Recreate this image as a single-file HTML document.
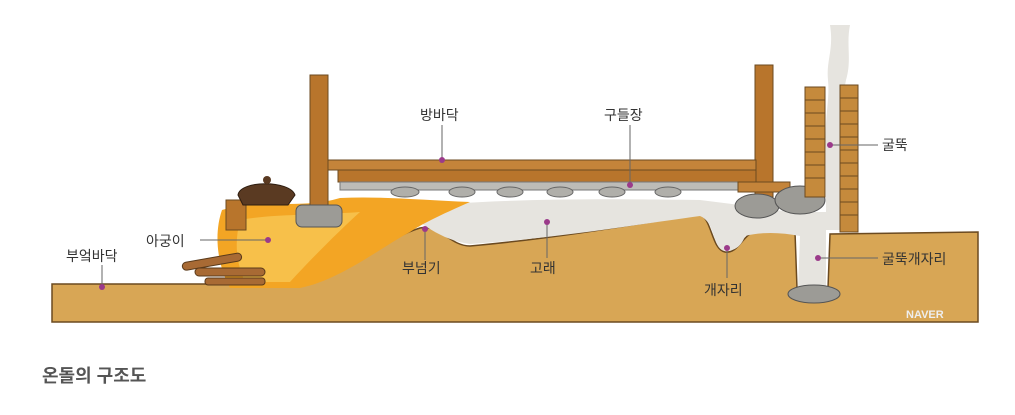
<!DOCTYPE html>
<html><head><meta charset="utf-8"><style>
html,body{margin:0;padding:0;background:#fff;width:1015px;height:415px;overflow:hidden}
svg{display:block}
text{font-family:"Liberation Sans","Noto Sans CJK KR",sans-serif;fill:#333;font-size:14px}
</style></head><body>
<svg width="1015" height="415" viewBox="0 0 1015 415">
<!-- ground -->
<path d="M52 284 L290 284 C340 282 380 240 420 228 C440 224 450 246 470 246 C560 238 650 222 700 214 C712 220 712 250 725 252 C740 254 742 232 760 230 L795 232 L797 288 L828 288 L830 234 L978 232 L978 322 L52 322 Z" fill="#d8a655" stroke="#6b4a20" stroke-width="1.5"/>
<!-- smoke under floor -->
<path d="M400 208 C480 200 560 198 700 200 L740 205 L790 212 L826 212 L826 288 L798 288 L800 236 C780 232 760 232 745 236 C740 250 730 252 722 250 C712 244 715 222 700 216 C640 224 560 238 470 244 C440 240 420 222 400 208Z" fill="#e6e4df"/>
<!-- smoke column in chimney -->
<path d="M826 230 L826 150 C824 120 830 100 828 80 C826 60 834 50 830 25 L850 25 C846 45 852 60 846 80 C842 100 840 130 840 230 Z" fill="#e6e4df"/>
<!-- fire -->
<path d="M222 210 C260 198 300 210 340 198 C380 196 420 200 470 202 C440 215 420 225 410 232 C380 248 340 280 300 288 L230 288 C215 260 215 230 222 210Z" fill="#f3a524"/>
<path d="M240 220 C270 214 320 215 360 212 C340 230 310 260 290 282 L245 282 C235 260 235 240 240 220Z" fill="#f7c04a"/>
<!-- posts and floor -->
<rect x="310" y="75" width="18" height="130" fill="#b8752c" stroke="#6b4a20"/>
<rect x="755" y="65" width="18" height="132" fill="#b8752c" stroke="#6b4a20"/>
<rect x="328" y="160" width="428" height="10" fill="#c4843a" stroke="#6b4a20"/>
<rect x="338" y="170" width="418" height="12" fill="#b8752c" stroke="#6b4a20"/>
<rect x="340" y="182" width="415" height="8" fill="#bdbcb8" stroke="#777"/>
<g fill="#b0afaa" stroke="#666"><ellipse cx="405" cy="192" rx="14" ry="5"/><ellipse cx="462" cy="192" rx="13" ry="5"/><ellipse cx="510" cy="192" rx="13" ry="5"/><ellipse cx="560" cy="192" rx="13" ry="5"/><ellipse cx="612" cy="192" rx="13" ry="5"/><ellipse cx="668" cy="192" rx="13" ry="5"/></g>
<rect x="738" y="182" width="52" height="10" fill="#c4843a" stroke="#6b4a20"/>
<!-- stones -->
<g fill="#9c9b96" stroke="#555"><rect x="296" y="205" width="46" height="22" rx="6"/><ellipse cx="757" cy="206" rx="22" ry="12"/><ellipse cx="800" cy="200" rx="25" ry="14"/><ellipse cx="814" cy="294" rx="26" ry="9"/></g>
<!-- pot -->
<rect x="226" y="200" width="20" height="30" fill="#b8752c" stroke="#6b4a20"/>
<path d="M238 195 C240 180 290 180 295 195 L288 205 L243 205 Z" fill="#5a3a22" stroke="#2e1d10"/>
<circle cx="267" cy="180" r="4" fill="#5a3a22"/>
<!-- wood -->
<g fill="#a86a34" stroke="#5a3a1a"><rect x="182" y="258" width="60" height="8" rx="4" transform="rotate(-10 210 262)"/><rect x="195" y="268" width="70" height="8" rx="4"/><rect x="205" y="278" width="60" height="7" rx="3"/></g>
<!-- chimney -->
<g fill="#c58a3c" stroke="#6b4a20"><rect x="805" y="87" width="20" height="110"/><rect x="840" y="85" width="18" height="147"/></g>
<g stroke="#6b4a20" stroke-width="1"><path d="M805 100h20M805 113h20M805 126h20M805 139h20M805 152h20M805 165h20M805 178h20M840 98h18M840 111h18M840 124h18M840 137h18M840 150h18M840 163h18M840 176h18M840 189h18M840 202h18M840 215h18"/></g>
<!-- leaders -->
<g stroke="#666" stroke-width="1"><path d="M442 125V160M630 125V185M200 240H268M102 265V287M425 229V260M547 222V258M727 248V278M830 145H878M818 258H878"/></g>
<g fill="#9b3a8a"><circle cx="442" cy="160" r="3"/><circle cx="630" cy="185" r="3"/><circle cx="268" cy="240" r="3"/><circle cx="102" cy="287" r="3"/><circle cx="425" cy="229" r="3"/><circle cx="547" cy="222" r="3"/><circle cx="727" cy="248" r="3"/><circle cx="830" cy="145" r="3"/><circle cx="818" cy="258" r="3"/></g>
<text x="420" y="120">방바닥</text>
<text x="604" y="120">구들장</text>
<text x="146" y="246">아궁이</text>
<text x="66" y="261">부엌바닥</text>
<text x="402" y="273">부넘기</text>
<text x="530" y="273">고래</text>
<text x="704" y="295">개자리</text>
<text x="882" y="150">굴뚝</text>
<text x="882" y="264">굴뚝개자리</text>
<text x="906" y="318" style="font-size:11px;font-weight:bold;fill:#eee">NAVER</text>
<text x="42" y="382" style="font-size:18px;fill:#555;font-weight:bold">온돌의 구조도</text>
</svg>
</body></html>
